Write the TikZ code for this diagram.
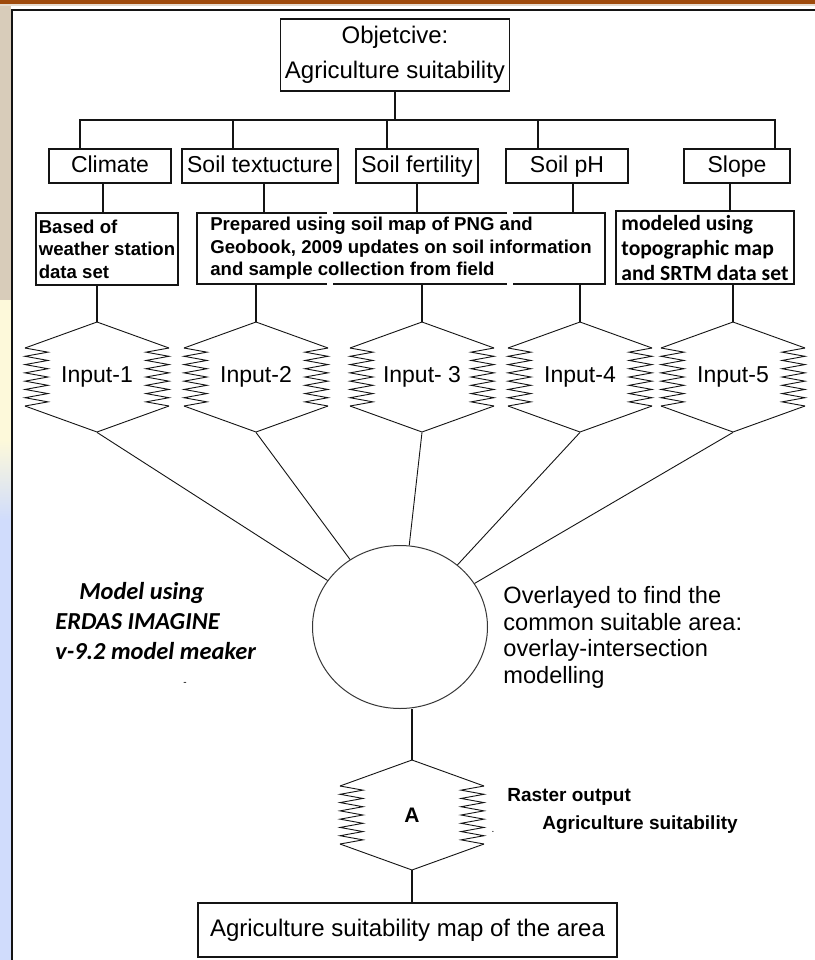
\documentclass[tikz,border=0pt]{standalone}
\usepackage{fontspec}
\setmainfont{Liberation Sans}
\newfontfamily\calibrifont{Carlito}
\usetikzlibrary{positioning,shapes.geometric}
\definecolor{ink}{RGB}{20,20,20}
\definecolor{framebrown}{RGB}{158,74,12}
\definecolor{framebeige}{RGB}{216,204,186}
\definecolor{frameyellow}{RGB}{253,249,218}
\definecolor{frameblue}{RGB}{208,220,252}

% outline of a raster object (ERDAS model maker symbol)
\newcommand\rasterframe[2]{%
  \draw[rasterline] (#1-72,#2-29) -- (#1,#2-55) -- (#1+72,#2-29);
  \draw[rasterline] (#1-72,#2+29) -- (#1,#2+55) -- (#1+72,#2+29);
  \foreach \side in {-1,1}{%
    \draw[rasterline] (#1+\side*72,#2-29)
      \foreach \k in {1,...,7}{ -- (#1+\side*49,#2-33.14+\k*8.286) -- (#1+\side*72,#2-29+\k*8.286) };
  }%
}

\begin{document}
\begin{tikzpicture}[x=0.5pt,y=-0.5pt,
    every node/.style={inner sep=0pt},
    titlebox/.style={draw=ink,line width=0.6pt,align=center,minimum width=114.5pt,minimum height=36pt,font=\fontsize{12}{17.5}\selectfont},
    factorbox/.style={draw=ink,line width=0.6pt,minimum height=17pt,text height=8.3pt,text depth=2.2pt,font=\fontsize{11.5}{13}\selectfont},
    notebox/.style={draw=ink,line width=0.6pt,align=left,font=\bfseries\fontsize{9.3}{11.25}\selectfont},
    rasterbox/.style={minimum width=72.5pt,minimum height=55pt,font=\fontsize{11.5}{13}\selectfont},
    rasterline/.style={draw=ink,line width=0.45pt},
    link/.style={draw=ink,line width=0.6pt}]
  \useasboundingbox (0,0) rectangle (815,960);
  % slide background
  \fill[white] (0,0) rectangle (815,960);
  \fill[framebeige] (0,0) rectangle (11,300);
  \fill[frameyellow] (0,300) rectangle (11,440);
  \shade[top color=frameyellow,bottom color=frameblue] (0,440) rectangle (11,520);
  \fill[frameblue] (0,520) rectangle (11,960);
  \fill[framebrown] (0,0) rectangle (815,3.5);
  \fill[framebeige!70!white] (0,3.5) rectangle (815,6);
  \draw[ink,line width=1pt] (11.5,980) -- (11.5,9.5) -- (830,9.5);

  % objective and factors
  \node[titlebox] (goal) at (395,55) {Objetcive:\\Agriculture suitability};
  \node[factorbox,minimum width=61pt] (climate) at (110,166) {Climate};
  \node[factorbox,minimum width=78pt] (texture) at (260,166) {Soil textucture};
  \node[factorbox,minimum width=61pt] (fertility) at (417,166) {Soil fertility};
  \node[factorbox,minimum width=61pt] (ph) at (567,166) {Soil pH};
  \node[factorbox,minimum width=53pt] (slope) at (737,166) {Slope};

  % data sources
  \node[notebox,minimum width=71pt,minimum height=36pt,inner xsep=1pt] (station) at (107,249) {Based of\\weather station\\data set};
  \node[notebox,minimum width=204pt,minimum height=35.5pt,inner xsep=5pt] (soilmap) at (401,248.5) {Prepared using soil map of PNG and\\Geobook, 2009 updates on soil information\\and sample collection from field};
  \node[notebox,font=\calibrifont\bfseries\fontsize{10.8}{12.5}\selectfont,minimum width=89pt,minimum height=36.5pt,inner xsep=2.5pt] (srtm) at (705,247.5) {modeled using\\topographic map\\and SRTM data set};
  \foreach \gx in {330,510}{
    \fill[white] (\gx-3,211) rectangle (\gx+3,215);
    \fill[white] (\gx-3,282) rectangle (\gx+3,286);
  }

  % input rasters
  \foreach \n/\cx/\t in {in1/97/{Input-1},in2/256/{Input-2},in3/422/{Input- 3},in4/580/{Input-4},in5/733/{Input-5}}{
    \node[rasterbox] (\n) at (\cx,377) {\t};
    \rasterframe{\cx}{377}
  }

  % overlay and output
  \node[draw=ink!85,ellipse,line width=0.5pt,minimum width=87.5pt,minimum height=81.5pt] (overlay) at (400,627) {};
  \node[rasterbox,font=\bfseries\fontsize{10.5}{12}\selectfont] (result) at (412,815) {A};
  \rasterframe{412}{815}
  \node[draw=ink,line width=0.6pt,minimum width=209.5pt,minimum height=27pt,font=\fontsize{12}{14}\selectfont] (map) at (407.5,930) {Agriculture suitability map of the area};

  % side notes
  \node[anchor=north west,align=left,font=\calibrifont\bfseries\itshape\fontsize{12.2}{15}\selectfont] (software) at (55,582) {\hspace*{12pt}Model using\\ERDAS IMAGINE\\v-9.2 model meaker};
  \node[anchor=north west,align=left,font=\fontsize{11.8}{13.35}\selectfont] (method) at (503,586) {Overlayed to find the\\common suitable area:\\overlay-intersection\\modelling};
  \node[anchor=north west,align=left,font=\bfseries\fontsize{9.5}{14}\selectfont] (rastertxt) at (507,788) {Raster output\\\hspace*{17.5pt}Agriculture suitability};
  \node (speck1) at (185,684) {\tiny -};
  \node (speck2) at (493,832) {\tiny .};

  % connectors
  \coordinate (bus) at (395,120);
  \draw[link] (goal.south) -- (goal.south |- bus);
  \draw[link] ([xshift=-15pt]climate.north) -- ([xshift=-15pt]climate.north |- bus) -- ([xshift=19pt]slope.north |- bus) -- ([xshift=19pt]slope.north);
  \foreach \f/\dx in {texture/-13.5,fertility/-15,ph/-14.5}
    \draw[link] ([xshift=\dx pt]\f.north) -- ([xshift=\dx pt]\f.north |- bus);
  \draw[link] ([xshift=-3.5pt]climate.south) -- ([xshift=-3.5pt]climate.south |- station.north);
  \draw[link] ([xshift=2pt]texture.south) -- ([xshift=2pt]texture.south |- soilmap.north);
  \draw[link] (fertility.south) -- (fertility.south |- soilmap.north);
  \draw[link] ([xshift=3pt]ph.south) -- ([xshift=3pt]ph.south |- soilmap.north);
  \draw[link] ([xshift=-3.5pt]slope.south) -- ([xshift=-3.5pt]slope.south |- srtm.north);
  \draw[link] (in1.north) -- (in1.north |- station.south);
  \foreach \n in {in2,in3,in4}
    \draw[link] (\n.north) -- (\n.north |- soilmap.south);
  \draw[link] (in5.north) -- (in5.north |- srtm.south);
  \foreach \n in {in1,in2,in3,in4,in5}
    \draw[rasterline] (\n.south) -- (overlay);
  \draw[link] (result.north) -- (result.north |- overlay.south);
  \draw[link] (result.south) -- (result.south |- map.north);
\end{tikzpicture}
\end{document}
